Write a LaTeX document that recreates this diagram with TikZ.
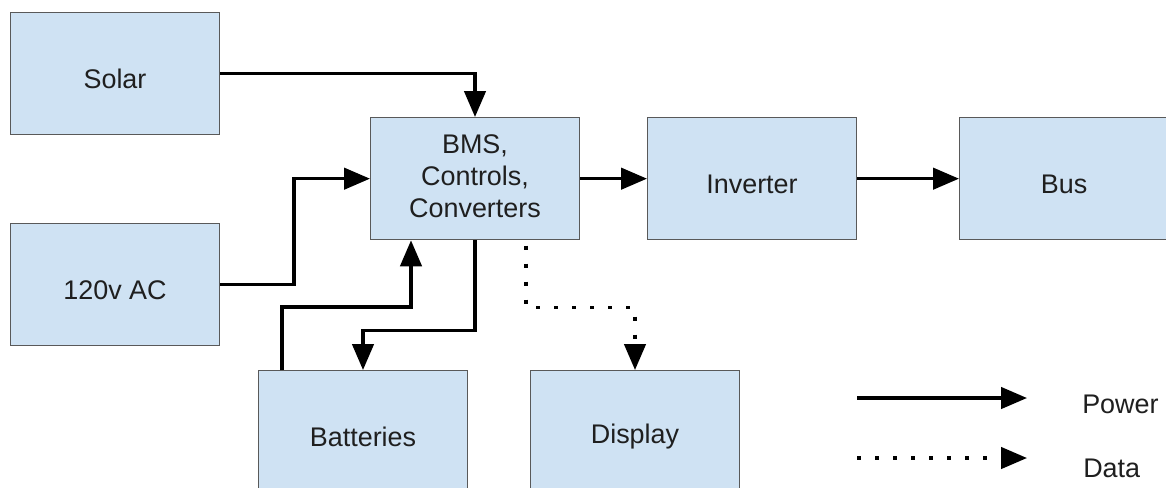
\documentclass[tikz,border=0pt]{standalone}
\usepackage{fontspec}
\setmainfont{Liberation Sans}
\usetikzlibrary{arrows.meta}
\definecolor{boxfill}{HTML}{CFE2F3}
\definecolor{boxline}{HTML}{595959}
\definecolor{ink}{HTML}{1F1F1F}

\begin{document}
\begin{tikzpicture}[x=0.75pt,y=-0.75pt,
  box/.style={draw=boxline, line width=1pt, fill=boxfill,
    minimum width=156.5pt, minimum height=91.5pt, inner sep=0pt, anchor=north west},
  lbl/.style={font=\fontsize{20.2}{24}\selectfont, text=ink, align=center, yshift=-4pt},
  legendtext/.style={font=\fontsize{20.2}{24}\selectfont, text=ink, inner sep=0pt, anchor=west},
  power/.style={line width=2.6pt, -{Triangle[length=19.5pt,width=16pt]}},
  data/.style={line width=2.6pt, dash pattern=on 3pt off 10.5pt, dash phase=-4pt,
    -{Triangle[length=19.5pt,width=16pt]}},
]
% canvas
\path[use as bounding box, clip] (0,0) rectangle (1166,487);
\fill[white] (0,0) rectangle (1166,487);

% blocks
\node[box, label={[lbl]center:Solar}]   (solar) at (10,12)  {};
\node[box, label={[lbl]center:120v AC}] (ac)    at (10,223) {};
\node[box, label={[lbl, yshift=6.2pt]center:BMS,\\Controls,\\Converters}] (bms) at (370,117) {};
\node[box, label={[lbl]center:Inverter}]  (inv)  at (647,117) {};
\node[box, label={[lbl]center:Bus}]       (bus)  at (959,117) {};
\node[box, label={[lbl]center:Batteries}] (bat)  at (258,370) {};
\node[box, label={[lbl]center:Display}]   (disp) at (530,370) {};

% power flow
\draw[power] (solar.east) -| (bms.north);
\draw[power] (ac.east) -- ++(74,0) |- (bms.west);
\draw[power] (bms.east) -- (inv.west);
\draw[power] (inv.east) -- (bus.west);
\draw[power] ([xshift=18pt]bat.north west) -- ++(0,-63) -| ([xshift=30.75pt]bms.south west);
\draw[power] (bms.south) -- ++(0,90) -| (bat.north);

% data flow
\draw[data] ([xshift=117pt]bms.south west) -- ++(0,67) -| (disp.north);

% legend
\coordinate (p0) at (857,398);
\coordinate (p1) at (1027,398);
\coordinate (d0) at (857,458);
\coordinate (d1) at (1027,458);
\draw[power] (p0) -- (p1);
\draw[data, dash phase=0pt] (d0) -- (d1);
\node[legendtext] (ptxt) at (1082,404) {Power};
\node[legendtext] (dtxt) at (1083,468) {Data};
\end{tikzpicture}
\end{document}
